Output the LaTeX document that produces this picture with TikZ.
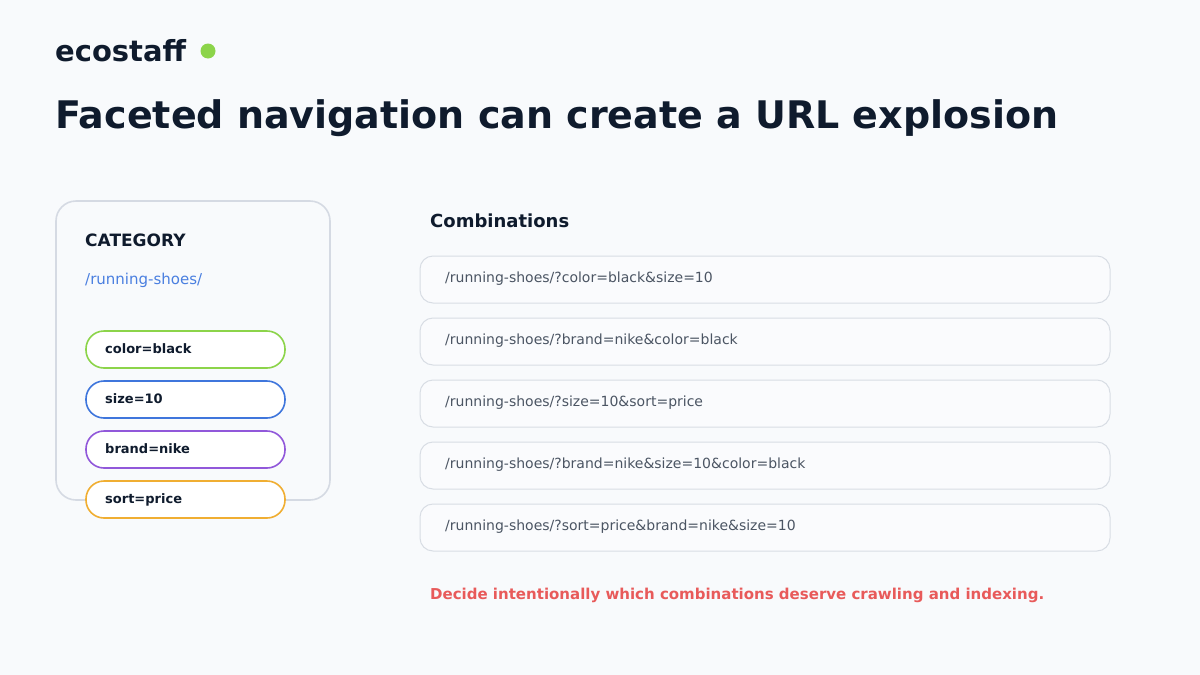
\documentclass[tikz,border=0pt]{standalone}
\usepackage{fontspec}
\setmainfont{DejaVu Sans}
\definecolor{bg}{HTML}{F8FAFC}
\definecolor{ink}{HTML}{0F1B2D}
\definecolor{cardline}{HTML}{D5DAE3}
\definecolor{rowline}{HTML}{D8DDE4}
\definecolor{rowfill}{HTML}{FAFBFD}
\definecolor{urlblue}{HTML}{4A7FE0}
\definecolor{dotgreen}{HTML}{8CD44A}
\definecolor{pgreen}{HTML}{8CD44A}
\definecolor{pblue}{HTML}{3F76DC}
\definecolor{ppurple}{HTML}{9158DA}
\definecolor{porange}{HTML}{F0AE32}
\definecolor{rowtext}{HTML}{4B5563}
\definecolor{warn}{HTML}{E85A5A}
\tikzset{
  pill/.style={draw=#1, line width=1.6pt, fill=white, rounded corners=18pt, minimum width=199pt, minimum height=37pt, inner sep=0pt},
  pilltext/.style={anchor=base west, font=\fontsize{13}{15}\selectfont\bfseries, text=ink, inner sep=0pt},
  row/.style={draw=rowline, line width=1pt, fill=rowfill, rounded corners=13pt, minimum width=690pt, minimum height=47pt, inner sep=0pt},
  rowtext/.style={anchor=base west, font=\fontsize{14}{16}\selectfont, text=rowtext, inner sep=0pt},
}
\begin{document}
\begin{tikzpicture}[x=1pt,y=-1pt]
\fill[bg] (0,0) rectangle (1200,675);
\useasboundingbox (0,0) rectangle (1200,675);
% header
\node[anchor=base west, inner sep=0pt, font=\fontsize{29}{32}\selectfont\bfseries, text=ink] (brand) at (55,61) {ecostaff};
\fill[dotgreen] (208,51) circle (7.5);
\node[anchor=base west, inner sep=0pt, font=\fontsize{38}{44}\selectfont\bfseries, text=ink] (title) at (55,128) {Faceted navigation can create a URL explosion};
% card
\node[draw=cardline, line width=1.6pt, fill=bg, rounded corners=20pt, minimum width=274pt, minimum height=299pt, inner sep=0pt] (card) at (193,350.5) {};
\node[anchor=base west, inner sep=0pt, font=\fontsize{17}{19}\selectfont\bfseries, text=ink] (cat) at (85,246) {CATEGORY};
\node[anchor=base west, inner sep=0pt, font=\fontsize{15}{17}\selectfont, text=urlblue] (url) at (85,284) {/running-shoes/};
\node[pill=pgreen] (p1) at (185.5,349.5) {};
\node[pilltext] at (105,353.5) {color=black};
\node[pill=pblue] (p2) at (185.5,399.5) {};
\node[pilltext] at (105,403.5) {size=10};
\node[pill=ppurple] (p3) at (185.5,449.5) {};
\node[pilltext] at (105,453.5) {brand=nike};
\node[pill=porange] (p4) at (185.5,499.5) {};
\node[pilltext] at (105,503.5) {sort=price};
% combinations
\node[anchor=base west, inner sep=0pt, font=\fontsize{18}{20}\selectfont\bfseries, text=ink] (comb) at (430,227) {Combinations};
\node[row] (r1) at (765,279.5) {};
\node[rowtext] at (445,282) {/running-shoes/?color=black\&size=10};
\node[row] (r2) at (765,341.5) {};
\node[rowtext] at (445,344) {/running-shoes/?brand=nike\&color=black};
\node[row] (r3) at (765,403.5) {};
\node[rowtext] at (445,406) {/running-shoes/?size=10\&sort=price};
\node[row] (r4) at (765,465.5) {};
\node[rowtext] at (445,468) {/running-shoes/?brand=nike\&size=10\&color=black};
\node[row] (r5) at (765,527.5) {};
\node[rowtext] at (445,530) {/running-shoes/?sort=price\&brand=nike\&size=10};
\node[anchor=base west, inner sep=0pt, font=\fontsize{15}{17}\selectfont\bfseries, text=warn] (note) at (430,599) {Decide intentionally which combinations deserve crawling and indexing.};
\end{tikzpicture}
\end{document}
